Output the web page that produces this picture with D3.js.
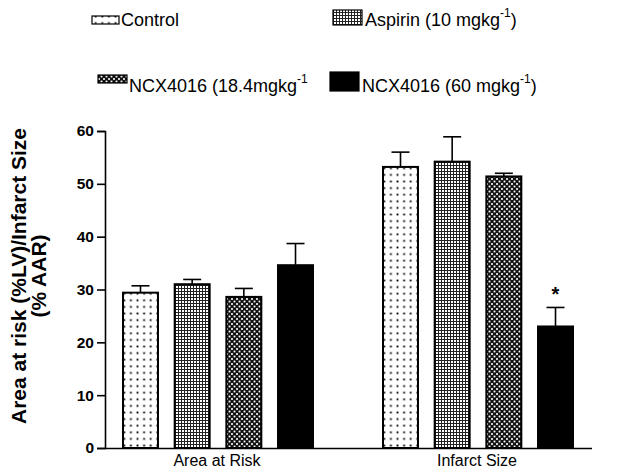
<!DOCTYPE html>
<html><head><meta charset="utf-8">
<script src="https://cdn.jsdelivr.net/npm/d3@7"></script>
<style>body{margin:0;background:#fff}svg{display:block}text{font-family:"Liberation Sans",Arial,sans-serif}</style>
</head><body><svg id="c" width="640" height="469"></svg>
<script>
const categories = ["Area at Risk", "Infarct Size"];
const series = ["Control", "Aspirin (10 mgkg", "NCX4016 (18.4mgkg", "NCX4016 (60 mgkg"];
const seriesClose = [")", ")", "", ")"];
const means = [[29.4, 31.0, 28.6, 34.6], [53.2, 54.2, 51.4, 23.0]];
const sems  = [[1.3, 0.9, 1.6, 4.1], [2.8, 4.7, 0.6, 3.6]];
const yTicks = [0, 10, 20, 30, 40, 50, 60];
const sigMarks = [["", "", "", ""], ["", "", "", "*"]];

const svg = d3.select("#c");
const defs = svg.append("defs");
// dots pattern
let p = defs.append("pattern").attr("id","p0").attr("patternUnits","userSpaceOnUse").attr("width",6.6).attr("height",6.6);
p.append("rect").attr("width",6.6).attr("height",6.6).attr("fill","#fff");
p.append("rect").attr("x",2.4).attr("y",2.4).attr("width",1.8).attr("height",1.8).attr("fill","#000");
// fine grid
p = defs.append("pattern").attr("id","p1").attr("patternUnits","userSpaceOnUse").attr("width",3).attr("height",3);
p.append("rect").attr("width",3).attr("height",3).attr("fill","#fff");
p.append("rect").attr("width",3).attr("height",1).attr("fill","#222");
p.append("rect").attr("width",1).attr("height",3).attr("fill","#222");
// checker
p = defs.append("pattern").attr("id","p2").attr("patternUnits","userSpaceOnUse").attr("width",5).attr("height",5);
p.append("rect").attr("width",5).attr("height",5).attr("fill","#111");
p.append("rect").attr("x",0.6).attr("y",0.6).attr("width",1.8).attr("height",1.8).attr("fill","#fff");
p.append("rect").attr("x",3.1).attr("y",3.1).attr("width",1.8).attr("height",1.8).attr("fill","#fff");
const fills = ["url(#p0)", "url(#p1)", "url(#p2)", "#000"];

const y = d3.scaleLinear().domain([0, 60]).range([448, 131]);
const x0 = d3.scaleBand().domain(categories).range([88, 608]);
const x1 = d3.scaleBand().domain(series).range([35, 225]).paddingInner(0.323);

// y axis
const yAxis = svg.append("g").attr("transform","translate(105,0)")
  .call(d3.axisLeft(y).tickValues(yTicks).tickSize(8).tickPadding(3));
yAxis.select(".domain").attr("stroke","#000").attr("stroke-width",1.6).attr("d","M-8,448.5H0.5V131.5H-8");
yAxis.selectAll(".tick line").attr("stroke-width",1.6);
yAxis.selectAll(".tick text").attr("font-size",15.5).attr("font-weight","bold").attr("fill","#000")
  .style("font-family","'Liberation Sans',Arial,sans-serif");

// x axis line
svg.append("line").attr("x1",105).attr("x2",592).attr("y1",y(0)+0.5).attr("y2",y(0)+0.5)
  .attr("stroke","#000").attr("stroke-width",1.6);

// bars
categories.forEach((cat, ci) => {
  const g = svg.append("g").attr("transform",`translate(${x0(cat)},0)`);
  series.forEach((s, si) => {
    const bx = x1(s), bw = x1.bandwidth(), cx = bx + bw/2;
    const v = means[ci][si], e = sems[ci][si];
    g.append("line").attr("x1",cx).attr("x2",cx).attr("y1",y(v)).attr("y2",y(v+e)).attr("stroke","#000").attr("stroke-width",1.6);
    g.append("line").attr("x1",cx-9).attr("x2",cx+9).attr("y1",y(v+e)).attr("y2",y(v+e)).attr("stroke","#000").attr("stroke-width",1.6);
    g.append("rect").attr("x",bx).attr("y",y(v)).attr("width",bw).attr("height",y(0)-y(v))
      .attr("fill",fills[si]).attr("stroke","#000").attr("stroke-width",2);
    if (sigMarks[ci][si]) {
      g.append("text").attr("x",cx).attr("y",y(v+e)-6).attr("text-anchor","middle")
        .attr("font-size",20).attr("font-weight","bold").text(sigMarks[ci][si]);
    }
  });
  svg.append("text").attr("x",x0(cat)+x0.bandwidth()/2 - 1).attr("y",466).attr("text-anchor","middle")
    .attr("font-size",16).text(cat);
});

// y title
const yt = svg.append("text").attr("transform","translate(0,276) rotate(-90)")
  .attr("text-anchor","middle").attr("font-size",21).attr("font-weight","bold");
yt.append("tspan").attr("x",0).attr("y",26).text("Area at risk (%LV)/Infarct Size");
yt.append("tspan").attr("x",0).attr("y",46).text("(% AAR)");

// legend
const legendPos = [
  {sx:92, sy:16, sw:27, sh:8, tx:121, ty:26},
  {sx:333, sy:10, sw:29, sh:15, tx:365, ty:26},
  {sx:98, sy:75, sw:29, sh:8, tx:129, ty:92},
  {sx:330, sy:72, sw:29, sh:19, tx:362, ty:92}
];
series.forEach((s, si) => {
  const L = legendPos[si];
  svg.append("rect").attr("x",L.sx).attr("y",L.sy).attr("width",L.sw).attr("height",L.sh)
    .attr("fill",fills[si]).attr("stroke","#000").attr("stroke-width",1.2);
  const t = svg.append("text").attr("x",L.tx).attr("y",L.ty).attr("font-size",18);
  t.append("tspan").text(s);
  if (si > 0) {
    t.append("tspan").attr("font-size",12).attr("dy",-9).text("-1");
    t.append("tspan").attr("dy",9).text(seriesClose[si]);
  }
});
</script></body></html>
